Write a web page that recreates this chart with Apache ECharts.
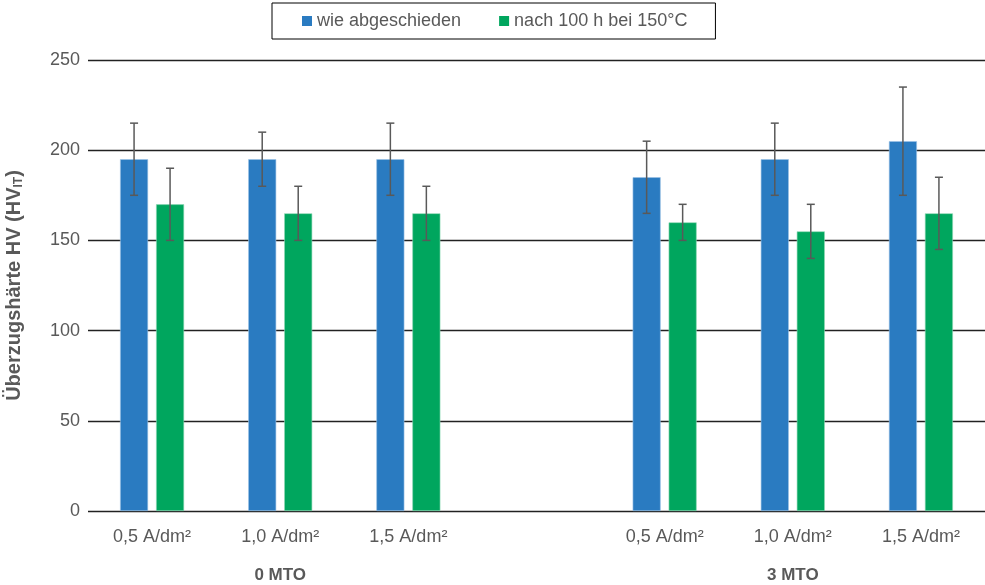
<!DOCTYPE html>
<html>
<head>
<meta charset="utf-8">
<script src="https://cdn.jsdelivr.net/npm/echarts@6/dist/echarts.min.js"></script>
<style>
  html, body { margin: 0; padding: 0; background: #fff; }
  #chart { width: 985px; height: 585px; }
</style>
</head>
<body>
<div id="chart"></div>
<script>
// Current densities per bath; the empty slot separates the two MTO groups
const categories = ['0,5 A/dm²', '1,0 A/dm²', '1,5 A/dm²', '', '0,5 A/dm²', '1,0 A/dm²', '1,5 A/dm²'];
const groupLabels = ['', '0 MTO', '', '', '', '3 MTO', ''];
const seriesNames = ['wie abgeschieden', 'nach 100 h bei 150°C'];
const asDeposited = [195, 195, 195, null, 185, 195, 205];
const asDepositedErr = [20, 15, 20, null, 20, 20, 30];
const annealed = [170, 165, 165, null, 160, 155, 165];
const annealedErr = [20, 15, 15, null, 10, 15, 20];
const yTicks = [0, 50, 100, 150, 200, 250];

const BAR_W = 28;
const BAR_GAP = 8;
const GREY = '#595959';
const FONT = 'Liberation Sans';

function errorSeries(values, errs, side) {
  const data = values.map((v, i) => v == null ? null : [i, v - errs[i], v + errs[i]]).filter(d => d);
  return {
    type: 'custom',
    silent: true,
    z: 5,
    data: data,
    renderItem: function (params, api) {
      const idx = api.value(0);
      const lo = api.coord([idx, api.value(1)]);
      const hi = api.coord([idx, api.value(2)]);
      const x = lo[0] + side * (BAR_W / 2 + BAR_GAP / 2);
      const cap = 4;
      const style = { stroke: GREY, lineWidth: 1.5 };
      return {
        type: 'group',
        children: [
          { type: 'line', shape: { x1: x, y1: lo[1], x2: x, y2: hi[1] }, style: style },
          { type: 'line', shape: { x1: x - cap, y1: lo[1], x2: x + cap, y2: lo[1] }, style: style },
          { type: 'line', shape: { x1: x - cap, y1: hi[1], x2: x + cap, y2: hi[1] }, style: style }
        ]
      };
    }
  };
}

const chart = echarts.init(document.getElementById('chart'));
chart.setOption({
  animation: false,
  textStyle: { fontFamily: FONT },
  legend: {
    top: 3,
    left: 272,
    data: seriesNames,
    borderColor: '#000',
    borderWidth: 1,
    padding: [9, 28, 9, 30],
    itemWidth: 10,
    itemHeight: 10,
    itemGap: 38,
    icon: 'rect',
    itemStyle: { borderWidth: 0 },
    textStyle: { color: GREY, fontSize: 18, fontFamily: FONT }
  },
  grid: { left: 88, right: 0, top: 60, bottom: 74, containLabel: false, outerBoundsMode: 'none' },
  xAxis: [
    {
      type: 'category',
      data: categories,
      axisLine: { show: false },
      axisTick: { show: false },
      axisLabel: { color: GREY, fontSize: 18, margin: 17, interval: 0, fontFamily: FONT }
    },
    {
      type: 'category',
      data: groupLabels,
      position: 'bottom',
      offset: 38,
      axisLine: { show: false },
      axisTick: { show: false },
      axisLabel: { color: GREY, fontSize: 17, fontWeight: 'bold', margin: 18, interval: 0, fontFamily: FONT }
    }
  ],
  yAxis: {
    type: 'value',
    min: yTicks[0],
    max: yTicks[yTicks.length - 1],
    interval: 50,
    axisLine: { show: false },
    axisTick: { show: false },
    axisLabel: { color: GREY, fontSize: 18, margin: 8, fontFamily: FONT },
    splitLine: { lineStyle: { color: '#222', width: 1.3 } },
    name: '{a|Überzugshärte HV (HV}{s|IT}{a|)}',
    nameLocation: 'middle',
    nameGap: 63,
    nameRotate: 90,
    nameTextStyle: {
      rich: {
        a: { color: GREY, fontSize: 20, fontWeight: 'bold', fontFamily: FONT },
        s: { color: GREY, fontSize: 12, fontWeight: 'bold', fontFamily: FONT, padding: [10, 0, 0, 0] }
      }
    }
  },
  series: [
    {
      name: seriesNames[0],
      type: 'bar',
      data: asDeposited,
      barWidth: BAR_W,
      barGap: (BAR_GAP / BAR_W * 100) + '%',
      itemStyle: { color: '#2A7BC1', borderColor: '#9CC3E6', borderWidth: 0.6 }
    },
    {
      name: seriesNames[1],
      type: 'bar',
      data: annealed,
      barWidth: BAR_W,
      itemStyle: { color: '#00A65E', borderColor: '#8FD8B6', borderWidth: 0.6 }
    },
    errorSeries(asDeposited, asDepositedErr, -1),
    errorSeries(annealed, annealedErr, 1)
  ]
});
</script>
</body>
</html>
